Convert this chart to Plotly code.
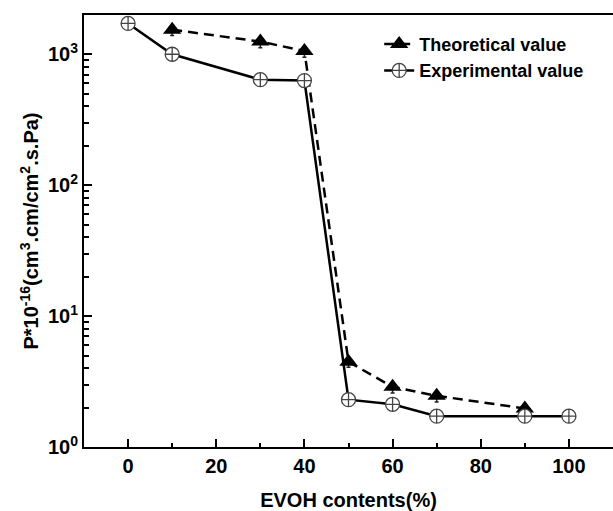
import plotly.graph_objects as go

# Data
exp_x = [0, 10, 30, 40, 50, 60, 70, 90, 100]
exp_y = [1720, 1000, 640, 630, 2.30, 2.12, 1.72, 1.72, 1.72]

theo_x = [10, 30, 40, 50, 60, 70, 90]
theo_y = [1540, 1250, 1060, 4.47, 2.88, 2.46, 1.97]
theo_err_down = [150, 130, 110, 0.4, 0.3, 0.25, 0.18]

x_tickvals = [0, 20, 40, 60, 80, 100]
y_tickvals = [1, 10, 100, 1000]
y_ticktext = ["<b>10<sup>0</sup></b>", "<b>10<sup>1</sup></b>", "<b>10<sup>2</sup></b>", "<b>10<sup>3</sup></b>"]
y_minorvals = [m * d for d in [1, 10, 100, 1000] for m in range(2, 10)]

FONT = "Liberation Sans"

fig = go.Figure()

fig.add_trace(go.Scatter(
    x=theo_x, y=theo_y, mode="lines+markers", name="<b>Theoretical value</b>",
    line=dict(color="black", width=2.5, dash="10px,6px"),
    marker=dict(symbol="triangle-up", size=16, color="black", line=dict(width=0)),
    error_y=dict(type="data", symmetric=False, array=[0] * len(theo_x), arrayminus=theo_err_down,
                 width=2, thickness=1.5, color="#222"),
))

fig.add_trace(go.Scatter(
    x=exp_x, y=exp_y, mode="lines+markers", name="<b>Experimental value</b>",
    line=dict(color="black", width=2.5),
    marker=dict(symbol="circle-cross", size=14, color="white",
                line=dict(width=1.3, color="#444")),
))

axis_common = dict(
    showline=True, linecolor="black", linewidth=2, mirror=True,
    ticks="inside", tickcolor="black", tickwidth=2, ticklen=8,
    showgrid=False, zeroline=False, automargin=False,
    tickfont=dict(family=FONT, size=20, color="black", weight="bold"),
)

fig.update_xaxes(
    range=[-10, 110], tickvals=x_tickvals,
    minor=dict(dtick=10, ticks="inside", ticklen=4, tickwidth=1.5, tickcolor="black", showgrid=False),
    title=dict(text="<b>EVOH contents(%)</b>", font=dict(family=FONT, size=20, color="black"), standoff=21),
    **axis_common,
)

fig.update_yaxes(
    type="log", range=[0, 3.3], tickvals=y_tickvals, ticktext=y_ticktext,
    minor=dict(tickvals=y_minorvals, ticks="inside", ticklen=5, tickwidth=1.5, tickcolor="black", showgrid=False),
    title=dict(text="<b>P*10<sup>-16</sup>(cm<sup>3</sup>.cm/cm<sup>2</sup>.s.Pa)</b>",
               font=dict(family=FONT, size=20, color="black"), standoff=4),
    **axis_common,
)

fig.update_layout(
    width=613, height=511,
    margin=dict(l=84, r=0, t=15, b=64),
    paper_bgcolor="white", plot_bgcolor="white",
    showlegend=True,
    legend=dict(x=0.558, y=0.975, xanchor="left", yanchor="top",
                font=dict(family=FONT, size=18, color="black"),
                bgcolor="rgba(0,0,0,0)", itemwidth=30, tracegroupgap=0),
)

fig.write_html(
    "out.html",
    config={"displayModeBar": False},
    post_script="document.body.style.margin='0';document.body.style.overflow='hidden';",
)
